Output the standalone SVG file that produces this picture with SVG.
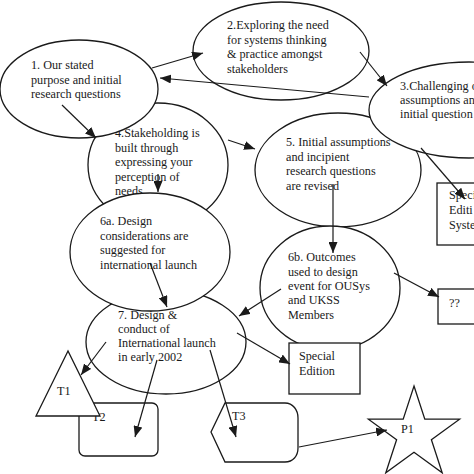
<svg xmlns="http://www.w3.org/2000/svg" width="474" height="474" viewBox="0 0 474 474">
<style>
.shape{fill:#fff;stroke:#1a1a1a;stroke-width:1.3}
.t{font-family:"Liberation Serif","Times New Roman",serif;font-size:12.2px;fill:#1a1a1a}
.c line{stroke:#1a1a1a;stroke-width:1.2;marker-end:url(#ah)}
</style>
<defs>
<marker id="ah" markerUnits="userSpaceOnUse" markerWidth="12" markerHeight="9" refX="11" refY="4.5" orient="auto">
<path d="M0,0 L11,4.5 L0,9 Z" fill="#1a1a1a"/>
</marker>
</defs>
<rect width="474" height="474" fill="#fff"/>
<g id="n4">
<ellipse class="shape" cx="158" cy="165" rx="70" ry="62"/>
<text class="t"><tspan x="115" y="137">4.Stakeholding is</tspan><tspan x="115" y="151.5">built through</tspan><tspan x="115" y="166">expressing your</tspan><tspan x="115" y="180.5">perception of</tspan><tspan x="115" y="195">needs</tspan></text>
</g>
<g id="n5">
<ellipse class="shape" cx="338" cy="170" rx="83" ry="57"/>
<text class="t"><tspan x="286" y="146">5. Initial assumptions</tspan><tspan x="286" y="160.5">and incipient</tspan><tspan x="286" y="175">research questions</tspan><tspan x="286" y="189.5">are revised</tspan></text>
</g>
<g id="n7">
<ellipse class="shape" cx="166" cy="342" rx="80" ry="52"/>
<text class="t"><tspan x="118" y="319">7. Design  &amp;</tspan><tspan x="118" y="333">conduct of</tspan><tspan x="118" y="347">International launch</tspan><tspan x="118" y="361">in early 2002</tspan></text>
</g>
<g id="n2">
<ellipse class="shape" cx="281" cy="51" rx="88" ry="49"/>
<text class="t"><tspan x="227" y="29">2.Exploring the need</tspan><tspan x="227" y="43.5">for systems thinking</tspan><tspan x="227" y="58">&amp; practice amongst</tspan><tspan x="227" y="72.5">stakeholders</tspan></text>
</g>
<g id="n1">
<ellipse class="shape" cx="79" cy="89" rx="79" ry="49"/>
<text class="t"><tspan x="31" y="69">1. Our stated</tspan><tspan x="31" y="83.5">purpose and initial</tspan><tspan x="31" y="98">research questions</tspan></text>
</g>
<g id="n3">
<ellipse class="shape" cx="469" cy="110" rx="100" ry="48"/>
<text class="t"><tspan x="400" y="90">3.Challenging o</tspan><tspan x="400" y="104">assumptions an</tspan><tspan x="400" y="118">initial question</tspan></text>
</g>
<g id="n6a">
<ellipse class="shape" cx="150" cy="252" rx="80" ry="59"/>
<text class="t"><tspan x="100" y="225">6a. Design</tspan><tspan x="100" y="239.5">considerations are</tspan><tspan x="100" y="254">suggested for</tspan><tspan x="100" y="268.5">international launch</tspan></text>
</g>
<g id="n6b">
<ellipse class="shape" cx="330" cy="288" rx="70" ry="62"/>
<text class="t"><tspan x="288" y="261">6b. Outcomes</tspan><tspan x="288" y="275.5">used to design</tspan><tspan x="288" y="290">event for OUSys</tspan><tspan x="288" y="304">and UKSS</tspan><tspan x="288" y="318.5">Members</tspan></text>
</g>
<g id="boxSES">
<rect class="shape" x="437" y="183" width="50" height="62"/>
<text class="t"><tspan x="449" y="199">Speci</tspan><tspan x="449" y="214">Editi</tspan><tspan x="449" y="229">Syste</tspan></text>
</g>
<g id="boxQ">
<rect class="shape" x="438" y="289" width="50" height="35"/>
<text class="t" x="449" y="307">??</text>
</g>
<g id="boxSE">
<rect class="shape" x="289" y="343" width="71" height="51"/>
<text class="t"><tspan x="299" y="360">Special</tspan><tspan x="299" y="375">Edition</tspan></text>
</g>
<g id="T2">
<rect class="shape" x="79" y="403" width="79" height="53" rx="6"/>
<text class="t" x="92" y="421">T2</text>
</g>
<g id="T1">
<polygon class="shape" points="68,351 36,416 100,416"/>
<text class="t" x="57" y="395">T1</text>
</g>
<g id="T3">
<path class="shape" d="M225,403 L285,403 C293,403 298,410 298,418 L298,448 C298,456 293,462 285,462 L225,462 L211,432 Z"/>
<text class="t" x="232" y="420">T3</text>
</g>
<g id="P1">
<polygon class="shape" points="414,386 424.8,419.2 459.6,419.2 431.4,439.7 442.2,472.8 414,452.3 385.8,472.8 396.6,439.7 368.4,419.2 403.2,419.2"/>
<text class="t" x="401" y="433">P1</text>
</g>
<g id="connectors" class="c">
<line x1="152" y1="68" x2="203" y2="53"/>
<line x1="369" y1="97" x2="160" y2="78"/>
<line x1="360" y1="52" x2="387" y2="86"/>
<line x1="62" y1="105" x2="96" y2="138"/>
<line x1="228" y1="140" x2="255" y2="149"/>
<line x1="421" y1="148" x2="465" y2="199"/>
<line x1="158" y1="174" x2="158" y2="192"/>
<line x1="333" y1="184" x2="333" y2="253"/>
<line x1="150" y1="263" x2="167" y2="307"/>
<line x1="281" y1="289" x2="239" y2="316"/>
<line x1="394" y1="273" x2="439" y2="297"/>
<line x1="237" y1="333" x2="290" y2="364"/>
<line x1="106" y1="342" x2="81" y2="375"/>
<line x1="157" y1="360" x2="135" y2="437"/>
<line x1="210" y1="350" x2="236" y2="437"/>
<line x1="299" y1="447" x2="387" y2="430"/>
</g>
</svg>
